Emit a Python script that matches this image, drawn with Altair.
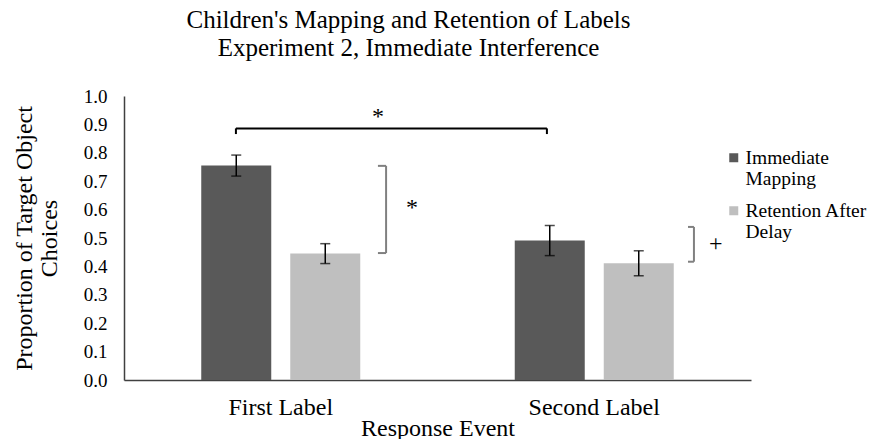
import altair as alt
import pandas as pd

# ---- data ----
categories = ["First Label", "First Label", "Second Label", "Second Label"]
conditions = ["Immediate Mapping", "Retention After Delay", "Immediate Mapping", "Retention After Delay"]
means = [0.755, 0.445, 0.491, 0.411]
errors = [0.037, 0.035, 0.053, 0.044]
y_ticks = [0.0, 0.1, 0.2, 0.3, 0.4, 0.5, 0.6, 0.7, 0.8, 0.9, 1.0]

# significance brackets, x in category units (0..2, band centres at 0.5 and 1.5)
seg_x = [0.357, 0.357, 1.349, 0.836, 0.810, 0.810, 1.818, 1.799, 1.799]
seg_x2 = [1.349, 0.357, 1.349, 0.836, 0.836, 0.836, 1.818, 1.818, 1.818]
seg_y = [0.886, 0.866, 0.866, 0.447, 0.754, 0.447, 0.4165, 0.539, 0.4165]
seg_y2 = [0.886, 0.886, 0.886, 0.754, 0.754, 0.447, 0.539, 0.539, 0.4165]
seg_col = ["top", "top", "top", "side", "side", "side", "side", "side", "side"]

mark_x = [0.81, 0.919, 1.888]
mark_y = [0.925, 0.605, 0.479]
mark_txt = ["*", "*", "+"]

FONT = "Liberation Serif"

df = pd.DataFrame({"cat": categories, "cond": conditions, "mean": means, "err": errors})
df["lo"] = df["mean"] - df["err"]
df["hi"] = df["mean"] + df["err"]

segs = pd.DataFrame({"x": seg_x, "x2": seg_x2, "y": seg_y, "y2": seg_y2, "c": seg_col})
marks = pd.DataFrame({"x": mark_x, "y": mark_y, "t": mark_txt})

yscale = alt.Scale(domain=[0, 1], nice=False)
ytitle = ["Proportion of Target Object", "Choices"]
yaxis = alt.Axis(values=y_ticks, format=".1f", grid=False, labelOverlap=False,
                 ticks=False, domainColor="#404040", domainWidth=1.5,
                 labelFont=FONT, titleFont=FONT,
                 labelFontSize=19, titleFontSize=24, labelPadding=17,
                 titlePadding=22, labelColor="#000000", titleColor="#000000",
                 titleFontWeight="normal", titleLineHeight=25)


def Y(field):
    return alt.Y(field, scale=yscale, title=ytitle, axis=yaxis)


xenc = alt.X("cat:N", title="Response Event",
             scale=alt.Scale(paddingInner=0, paddingOuter=0),
             axis=alt.Axis(labelAngle=0, ticks=False, domain=True, domainColor="#404040",
                           domainWidth=1.5, labelFont=FONT, titleFont=FONT,
                           labelFontSize=24, titleFontSize=24,
                           labelPadding=15, labelBaseline="top",
                           titleBaseline="alphabetic", titleY=55,
                           labelColor="#000000", titleColor="#000000",
                           titleFontWeight="normal"))
xoff = alt.XOffset("cond:N", scale=alt.Scale(paddingInner=0.2135, paddingOuter=0.868))

base = alt.Chart(df)

bars = base.mark_bar().encode(
    x=xenc,
    xOffset=xoff,
    y=Y("mean:Q"),
    color=alt.Color("cond:N",
                    scale=alt.Scale(domain=["Immediate Mapping", "Retention After Delay"],
                                    range=["#595959", "#bfbfbf"]),
                    legend=alt.Legend(title=None, orient="none", legendX=600, legendY=52,
                                      symbolType="square", symbolSize=81, symbolStrokeWidth=0,
                                      labelFont=FONT, labelFontSize=19.5, labelColor="#000000",
                                      labelExpr="datum.label == 'Immediate Mapping' ? ['Immediate', 'Mapping'] : ['Retention After', 'Delay']",
                                      labelBaseline="middle", labelOffset=2, rowPadding=11,
                                      padding=0)),
)

rules = base.mark_rule(color="#000000", strokeWidth=1.5).encode(
    x=alt.X("cat:N"), xOffset=alt.XOffset("cond:N"),
    y=Y("lo:Q"), y2="hi:Q")
cap_lo = base.mark_tick(color="#000000", thickness=1.5, size=10).encode(
    x=alt.X("cat:N"), xOffset=alt.XOffset("cond:N"), y=Y("lo:Q"))
cap_hi = base.mark_tick(color="#000000", thickness=1.5, size=10).encode(
    x=alt.X("cat:N"), xOffset=alt.XOffset("cond:N"), y=Y("hi:Q"))

main = alt.layer(bars, rules, cap_lo, cap_hi)

ax = alt.Scale(domain=[0, 2], nice=False, zero=False)
brackets = alt.Chart(segs).mark_rule(strokeWidth=2).encode(
    x=alt.X("x:Q", scale=ax, axis=None), x2="x2:Q",
    y=Y("y:Q"), y2="y2:Q",
    color=alt.Color("c:N", scale=alt.Scale(domain=["top", "side"], range=["#000000", "#808080"]),
                    legend=None))
texts = alt.Chart(marks).mark_text(font=FONT, fontSize=24, color="#000000", baseline="middle").encode(
    x=alt.X("x:Q", scale=ax, axis=None),
    y=Y("y:Q"),
    text="t:N")
annot = alt.layer(brackets, texts)

chart = alt.layer(main, annot).resolve_scale(x="independent", color="independent").properties(
    width=627, height=284,
    autosize=alt.AutoSizeParams(type="none"),
    padding={"left": 116, "top": 88, "right": 116, "bottom": 59},
    title=alt.Title(["Children's Mapping and Retention of Labels", "Experiment 2, Immediate Interference"],
                    font=FONT, fontSize=25, fontWeight="normal", color="#000000",
                    lineHeight=28, offset=26, dx=-29, anchor="middle"),
).configure(font=FONT, view=alt.ViewConfig(stroke=None))

chart.save("out.html", embed_options={"renderer": "svg", "actions": False})
